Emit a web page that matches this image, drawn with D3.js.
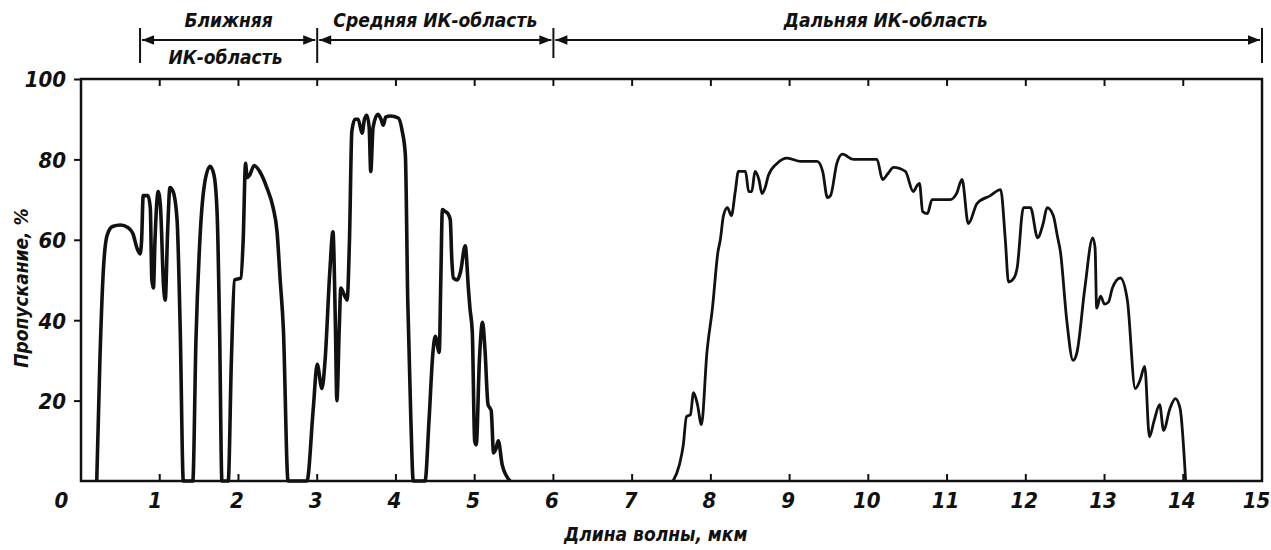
<!DOCTYPE html>
<html>
<head>
<meta charset="utf-8">
<script src="https://cdn.jsdelivr.net/npm/d3@7"></script>
<style>
  body { margin: 0; background: #fff; }
  svg text { font-family: "Liberation Sans Narrow", "DejaVu Sans Condensed", "Liberation Sans", sans-serif; font-style: italic; font-weight: bold; fill: #111; }
</style>
</head>
<body>
<div id="graph_container" style="width:1271px;height:550px;"></div>
<script>
// near + middle IR (0.2 - 5.5 mkm)
var nearWl = [0.20,0.24,0.28,0.33,0.40,0.50,0.60,0.66,0.71,0.75,0.77,0.79,0.85,0.88,0.90,0.92,0.94,0.98,1.01,1.05,1.07,1.10,1.13,1.17,1.22,1.26,1.30,
              1.42,1.46,1.51,1.57,1.64,1.69,1.73,1.76,1.79,
              1.87,1.91,1.95,2.03,2.06,2.09,2.11,2.14,2.20,2.27,2.36,2.44,2.49,2.53,2.57,2.63,
              2.87,2.95,3.00,3.06,3.10,3.16,3.20,3.23,3.25,3.28,3.30,3.35,3.38,3.41,3.44,3.48,3.52,3.57,3.60,3.63,3.66,3.68,3.71,3.77,3.81,3.84,3.87,3.93,4.03,4.08,4.12,4.15,4.19,4.22,
              4.37,4.42,4.47,4.50,4.55,4.57,4.59,4.63,4.66,4.69,4.71,4.73,4.78,4.82,4.88,4.92,4.94,4.97,5.00,5.02,5.06,5.10,5.13,5.17,5.21,5.24,5.27,5.30,5.35,5.45];
var nearT  = [0,30,51,61,63.3,63.7,63,61.5,58,56.5,60,71,71,68,50,48,60,72,68,48,45,62,73,72,65,38,0,
              0,35,60,74,78.3,76,66,38,0,
              0,30,50,50.5,60,79,75.5,76,78.5,77,73,68,62,50,38,0,
              0,18,29,23,30,52,62,40,20,38,48,46,45,60,87,90,90,86.5,90,91,88,77,88,91.2,90,88.5,90.5,90.8,90.3,87,81,45,15,0,
              0,15,32,36,32,50,67.5,67,66.5,65,55,50.5,50,52,58.5,48,43,37,10,9,30,39.5,33,19,17.5,7,8,10,4,0];

// far IR (7.5 - 14 mkm)
var farWl = [7.52,7.60,7.65,7.69,7.74,7.78,7.83,7.88,7.95,8.02,8.09,8.12,8.16,8.21,8.26,8.31,8.35,8.44,8.48,8.52,8.56,8.61,8.65,8.69,8.73,8.84,8.97,9.14,9.35,9.42,9.48,9.52,9.60,9.67,9.81,10.11,10.18,10.25,10.32,10.47,10.57,10.62,10.65,10.69,10.75,10.81,11.04,11.12,11.19,11.27,11.38,11.55,11.68,11.74,11.78,11.85,11.89,11.97,12.06,12.15,12.22,12.27,12.35,12.40,12.44,12.52,12.60,12.65,12.75,12.85,12.88,12.90,12.95,13.00,13.05,13.10,13.20,13.29,13.39,13.45,13.51,13.57,13.63,13.70,13.75,13.83,13.90,13.96,14.03];
var farT  = [0,4,9,16,16.5,22,19,14,32,43,57,60,66,68,66,72,77,77,72,72,77,75,71.5,73,76,79,80.3,79.5,79.5,77,70.5,71,79,81.3,80,80,75,76.5,78,77,72,73.5,74,67,66.5,70,70,71.5,75,64,69,71,72.5,60,49.5,50.5,53,68,68,60.5,64,68,66,61,57,40,30,32,48,60.5,58,43,46,44,44.5,48,50.5,45,23,25,28.5,11,15,19,12.6,18,20.5,18,0];

var xTicks  = d3.range(0, 16);
var yTicks  = [20, 40, 60, 80, 100];
var regionEdges  = [0.75, 3, 6, 15];
var regionTop    = ["Ближняя", "Средняя ИК-область", "Дальняя ИК-область"];
var regionBottom = ["ИК-область", "", ""];
var xTitle = "Длина волны, мкм";
var yTitle = "Пропускание, %";

var chartDiv = document.getElementById("graph_container");
var width  = 1271;
var height = 550;
var svg = d3.select(chartDiv).append("svg").attr("width", width).attr("height", height);

var pLeft = 81, pRight = 1262, pTop = 79, pBottom = 481;
var x = d3.scaleLinear().domain([0, 15]).range([pLeft, pRight]);
var y = d3.scaleLinear().domain([0, 100]).range([pBottom, pTop]);

// frame
svg.append("rect")
    .attr("x", pLeft).attr("y", pTop)
    .attr("width", pRight - pLeft).attr("height", pBottom - pTop)
    .attr("fill", "none").attr("stroke", "#111").attr("stroke-width", 2.5);

// inner ticks top and bottom
var inner = xTicks.slice(1, -1);
svg.append("g").selectAll("line").data(inner).enter().append("line")
    .attr("x1", function(d) { return x(d); }).attr("x2", function(d) { return x(d); })
    .attr("y1", pTop).attr("y2", pTop + 7)
    .attr("stroke", "#111").attr("stroke-width", 2);
svg.append("g").selectAll("line").data(inner).enter().append("line")
    .attr("x1", function(d) { return x(d); }).attr("x2", function(d) { return x(d); })
    .attr("y1", pBottom).attr("y2", pBottom - 7)
    .attr("stroke", "#111").attr("stroke-width", 2);

// x axis labels
var xAxis = svg.append("g")
    .attr("transform", "translate(0," + pBottom + ")")
    .call(d3.axisBottom(x).tickValues(xTicks).tickSize(0).tickFormat(d3.format("d")));
xAxis.select(".domain").remove();
xAxis.selectAll("text")
    .attr("y", 27).attr("dy", null)
    .attr("font-size", 22)
    .attr("dx", function(d) { return d === 0 ? -20 : (d === 1 ? -5 : (d === 15 ? -6 : -2)); });

// y axis
var yAxis = svg.append("g")
    .attr("transform", "translate(" + pLeft + ",0)")
    .call(d3.axisLeft(y).tickValues(yTicks).tickSizeInner(7).tickSizeOuter(0).tickPadding(6));
yAxis.select(".domain").remove();
yAxis.selectAll("line").attr("stroke", "#111").attr("stroke-width", 2);
yAxis.selectAll("text").attr("font-size", 22).attr("dy", "0.36em").attr("dx", -2);

// axis titles
svg.append("text")
    .attr("x", x(7.3)).attr("y", 541)
    .attr("text-anchor", "middle").attr("font-size", 19)
    .text(xTitle);
svg.append("text")
    .attr("transform", "translate(28," + y(48) + ") rotate(-90)")
    .attr("text-anchor", "middle").attr("font-size", 19)
    .text(yTitle);

// region brackets
var defs = svg.append("defs");
defs.append("marker")
    .attr("id", "arr").attr("viewBox", "0 0 10 10")
    .attr("refX", 10).attr("refY", 5)
    .attr("markerWidth", 7).attr("markerHeight", 6)
    .attr("orient", "auto-start-reverse")
    .append("path").attr("d", "M0,1 L10,5 L0,9 Z").attr("fill", "#111");

var bracketY = 40;
for (var i = 0; i < regionEdges.length - 1; i++) {
    svg.append("line")
        .attr("x1", x(regionEdges[i]) + 2).attr("x2", x(regionEdges[i + 1]) - 2)
        .attr("y1", bracketY).attr("y2", bracketY)
        .attr("stroke", "#111").attr("stroke-width", 2)
        .attr("marker-start", "url(#arr)").attr("marker-end", "url(#arr)");
}
svg.append("g").selectAll("line").data(regionEdges).enter().append("line")
    .attr("x1", function(d) { return x(d); }).attr("x2", function(d) { return x(d); })
    .attr("y1", 28).attr("y2", function(d, i) { return i === 2 ? 58 : 63; })
    .attr("stroke", "#111").attr("stroke-width", 2);

var labelShift = [0, 0, -0.28];
svg.append("g").selectAll("text").data(regionTop).enter().append("text")
    .attr("x", function(d, i) { return x((regionEdges[i] + regionEdges[i + 1]) / 2 + labelShift[i]); })
    .attr("y", 27)
    .attr("text-anchor", "middle").attr("font-size", 19)
    .text(function(d) { return d; });
svg.append("g").selectAll("text").data(regionBottom).enter().append("text")
    .attr("x", function(d, i) { return x((regionEdges[i] + regionEdges[i + 1]) / 2 - 0.04); })
    .attr("y", 64)
    .attr("text-anchor", "middle").attr("font-size", 19)
    .text(function(d) { return d; });

// transmission curve
var line = d3.line()
    .x(function(d) { return x(d[0]); })
    .y(function(d) { return y(d[1]); })
    .curve(d3.curveMonotoneX);

svg.append("path")
    .datum(d3.zip(nearWl, nearT))
    .attr("d", line)
    .attr("fill", "none").attr("stroke", "#111")
    .attr("stroke-width", 3.6).attr("stroke-linejoin", "round");

svg.append("path")
    .datum(d3.zip(farWl, farT))
    .attr("d", line)
    .attr("fill", "none").attr("stroke", "#111")
    .attr("stroke-width", 2.8).attr("stroke-linejoin", "round");
</script>
</body>
</html>
